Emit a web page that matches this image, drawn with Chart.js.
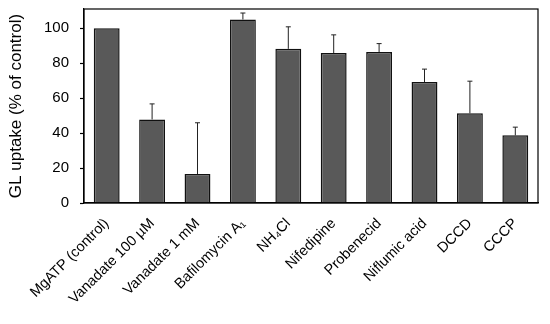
<!DOCTYPE html>
<html lang="en">
<head>
    <meta charset="UTF-8">
    <title>GL uptake</title>
    <script src="https://cdn.jsdelivr.net/npm/chart.js"></script>
    <style>
        body { margin: 0; background: white; }
        #wrap { width: 550px; height: 324px; }
    </style>
</head>
<body>
    <div id="wrap"><canvas id="glChart"></canvas></div>

    <script>
        const categories = ['MgATP (control)', 'Vanadate 100 µM', 'Vanadate 1 mM', 'Bafilomycin A\u2081', 'NH\u2084Cl',
            'Nifedipine', 'Probenecid', 'Niflumic acid', 'DCCD', 'CCCP'];
        const uptake = [100, 47.8, 16.6, 105, 88.2, 85.8, 86.4, 69.2, 51.3, 38.7];
        const errorUp = [0, 8.9, 29.3, 3.7, 12.6, 10.4, 4.8, 7.4, 18.4, 4.7];
        const yTicks = [0, 20, 40, 60, 80, 100];

        // upward-only error bars with small caps
        const errorBars = {
            id: 'errorBars',
            afterDatasetsDraw(chart) {
                const ctx = chart.ctx;
                const meta = chart.getDatasetMeta(0);
                const y = chart.scales.y;
                ctx.save();
                ctx.strokeStyle = '#222';
                ctx.lineWidth = 1;
                meta.data.forEach((bar, i) => {
                    if (!errorUp[i]) return;
                    const top = y.getPixelForValue(uptake[i] + errorUp[i]);
                    const base = y.getPixelForValue(uptake[i]);
                    ctx.beginPath();
                    ctx.moveTo(bar.x, base);
                    ctx.lineTo(bar.x, top);
                    ctx.moveTo(bar.x - 2.5, top);
                    ctx.lineTo(bar.x + 2.5, top);
                    ctx.stroke();
                });
                ctx.restore();
            }
        };

        const frame = {
            id: 'frame',
            afterDraw(chart) {
                const a = chart.chartArea;
                const ctx = chart.ctx;
                ctx.save();
                ctx.strokeStyle = '#000';
                ctx.lineWidth = 1.2;
                ctx.strokeRect(a.left, a.top, a.right - a.left, a.bottom - a.top);
                ctx.restore();
            }
        };

        const font = 'Liberation Sans, Arial, sans-serif';

        new Chart(document.getElementById('glChart'), {
            type: 'bar',
            data: {
                labels: categories,
                datasets: [{
                    data: uptake,
                    backgroundColor: '#595959',
                    borderColor: '#111',
                    borderWidth: 1.5,
                    barPercentage: 0.57,
                    categoryPercentage: 1
                }]
            },
            options: {
                responsive: true,
                maintainAspectRatio: false,
                animation: false,
                layout: { padding: { top: 9, right: 12, left: 0, bottom: 0 } },
                plugins: { legend: { display: false }, tooltip: { enabled: false } },
                scales: {
                    x: {
                        grid: { display: false },
                        border: { color: '#000', width: 1.2 },
                        ticks: {
                            color: '#000',
                            font: { family: font, size: 14.5 },
                            maxRotation: 45,
                            minRotation: 45,
                            autoSkip: false,
                            padding: 4
                        },
                        afterFit(scale) { scale.height = 121; }
                    },
                    y: {
                        min: 0,
                        max: 111,
                        afterBuildTicks(scale) { scale.ticks = yTicks.map(v => ({ value: v })); },
                        grid: { display: true, drawOnChartArea: false, tickLength: 4, color: '#000', tickWidth: 1.2 },
                        border: { color: '#000', width: 1.2 },
                        ticks: {
                            color: '#000',
                            font: { family: font, size: 15 },
                            padding: 11
                        },
                        title: {
                            display: true,
                            text: 'GL uptake (% of control)',
                            color: '#000',
                            font: { family: font, size: 17 },
                            padding: { top: 6, bottom: 0 }
                        },
                        afterFit(scale) {
                            scale.width = 84;
                            scale.paddingTop = 0;
                            scale.paddingBottom = 0;
                        }
                    }
                }
            },
            plugins: [errorBars, frame]
        });
    </script>
</body>
</html>
